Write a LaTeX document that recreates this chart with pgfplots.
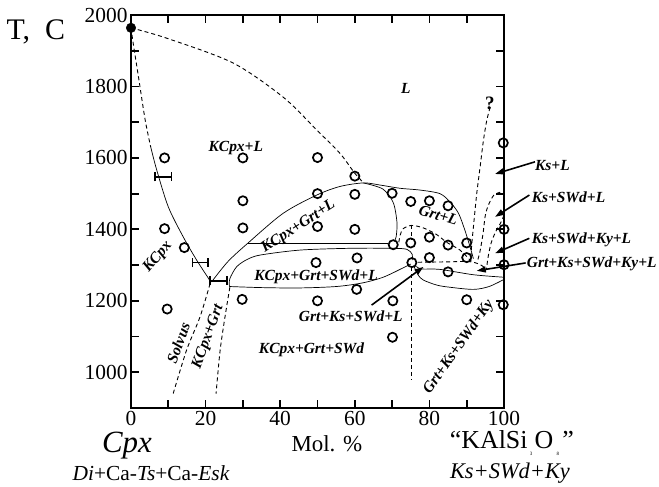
\documentclass[border=0pt]{standalone}
\usepackage{fontspec}
\setmainfont{Liberation Serif}
\usepackage{pgfplots}
\pgfplotsset{compat=1.18}
\usetikzlibrary{arrows.meta}
\begin{document}
\begin{tikzpicture}
\tikzset{
  thinline/.style={black, line width=0.7bp},
  dashline/.style={black, line width=0.9bp, dash pattern=on 4bp off 3bp},
  lab/.style={font=\fontsize{15.5}{17}\selectfont\bfseries\itshape, inner sep=0pt},
  arr/.style={black, line width=1.6bp, -{Triangle[length=9bp,width=6bp]}},
}
\begin{axis}[
  scale only axis, width=373bp, height=393bp,
  xmin=0, xmax=100, ymin=900, ymax=2000,
  xtick={0,20,...,100}, minor xtick={10,30,...,90},
  ytick={1000,1200,...,2000}, minor ytick={1100,1300,...,1900},
  tick align=inside, major tick length=8bp, minor tick length=8bp,
  every tick/.style={black, line width=1.8bp},
  axis line style={line width=2bp},
  ticklabel style={font=\fontsize{21.5}{23}\selectfont},
  /pgf/number format/assume math mode=true,
  /pgf/number format/1000 sep={},
  clip=false,
]
% liquidus of Cpx (dashed)
\addplot[dashline, smooth] coordinates {(0,1964) (9.6,1935) (27.3,1866) (40.8,1770) (49.8,1678) (56,1613) (60,1557) (62.3,1531)};
% left boundary: dashed then solid
\addplot[dashline, smooth] coordinates {(0,1964) (0.6,1920) (2,1827) (3.8,1706) (5.3,1630)};
\addplot[thinline, smooth] coordinates {(5.3,1630) (6.9,1566) (10,1463) (14,1379) (17.6,1314) (21.4,1253)};
% KCpx+Grt+L dome, outer
\addplot[thinline, smooth] coordinates {(21.6,1253) (26,1310) (31.4,1362) (40.8,1445) (49.8,1496) (56,1520) (62.3,1530) (66.8,1524) (72.1,1515) (77.5,1510) (82.8,1500) (85.5,1477) (87.8,1445) (89.5,1398) (90.9,1351) (91.8,1318)};
% inner branch
\addplot[thinline, smooth] coordinates {(62.3,1530) (67.5,1513) (70.3,1475) (71.3,1420) (71.1,1380) (70.6,1366)};
% horizontal line
\addplot[thinline] coordinates {(31.4,1362) (69,1362)};
% SWd loop
\addplot[thinline, smooth] coordinates {(26.4,1240) (26.5,1262) (28.3,1295) (31,1315) (34.6,1328) (45.3,1342) (58.7,1347) (70,1347) (74,1344) (75.4,1330) (75.4,1314)};
\addplot[thinline, smooth] coordinates {(26.4,1240) (35,1237) (45,1236) (55,1240) (62,1250) (67.6,1266) (72.9,1292) (75,1303)};
% Grt+L lower dashed
\addplot[dashline, smooth] coordinates {(71.8,1364) (72.2,1385) (73,1402) (75.2,1411) (78.4,1404) (82,1385) (84.6,1364) (88.2,1342) (90.9,1314)};
% vertical dashed x=75
\addplot[dashline] coordinates {(75.2,1411) (75.2,1370)};
\addplot[dashline] coordinates {(75.2,1295) (75.2,978)};
% horizontal dashed
\addplot[dashline, smooth] coordinates {(77,1308) (85,1309) (90.5,1310) (93.5,1302) (95.3,1288)};
% "?" dashed
\addplot[dashline, smooth] coordinates {(96.3,1742) (95.4,1706) (94.5,1650) (93.6,1575) (92.7,1501) (91.8,1407) (91.3,1351) (91.1,1310)};
% Ks+SWd+L dashed
\addplot[dashline, smooth] coordinates {(99,1504) (97.3,1496) (95.9,1470) (95,1440) (94.4,1390) (93.6,1340) (92.8,1308)};
% Ky dashed
\addplot[dashline, smooth] coordinates {(100,1440) (99.2,1420) (97.7,1392) (96.5,1360) (95.7,1320) (95.3,1288)};
% Grt+Ks+SWd+Ky+L lenses
\addplot[thinline, smooth] coordinates {(76.5,1296) (78,1289) (82.8,1288) (91.8,1273) (100,1266)};
\addplot[thinline, smooth] coordinates {(75.8,1298) (77,1272) (78.4,1258) (82,1244) (85.5,1238) (91.8,1232) (96,1240) (100,1260)};
% Solvus and KCpx+Grt dashed
\addplot[dashline, smooth] coordinates {(21.2,1248) (18.5,1155) (14.9,1062) (11.3,940)};
\addplot[dashline, smooth] coordinates {(26.5,1238) (25.2,1155) (23.9,1062) (22.8,940)};
% error bars
\addplot[draw=none, mark=none, error bars/.cd, x dir=both, x explicit, error mark=|,
  error bar style={draw=black, solid, line width=1.6bp}, error mark options={draw=black, line width=1.6bp, mark size=4.5bp}]
  coordinates {(8.7,1547) +- (2.2,0) (18.6,1307) +- (2.1,0) (23.5,1256) +- (2.3,0)};
% experimental points
\addplot[only marks, mark=o, mark size=4.6bp, mark options={black, line width=1.7bp}] coordinates {
(9,1600) (30,1600) (50,1601) (60,1549) (30,1480) (50,1500) (60,1498) (70,1501) (75,1478) (80,1480) (85,1466)
(9,1402) (30,1404) (50,1408) (60,1400) (14.3,1349) (70.3,1357) (75,1362) (80,1378) (85,1356) (90,1362)
(49.6,1307) (60.6,1320) (75.3,1307) (80,1321) (90,1321) (85,1281)
(99.8,1642) (100,1400) (100,1301) (99.8,1189)
(60.5,1232) (29.8,1204) (50,1200) (70.2,1200) (90,1203) (9.7,1177) (70.1,1098)};
\addplot[only marks, mark=*, mark size=4.8bp, mark options={black}] coordinates {(0,1964)};
% arrows
\draw[arr] (axis cs:108.3,1589) -- (axis cs:97.6,1555);
\draw[arr] (axis cs:106.8,1496) -- (axis cs:97.6,1435);
\draw[arr] (axis cs:106.8,1375) -- (axis cs:97.6,1333);
\draw[arr] (axis cs:105.8,1306) -- (axis cs:92.7,1284);
\draw[arr] (axis cs:64.5,1188) -- (axis cs:78.4,1295);
% labels inside
\node[lab] at (axis cs:73.7,1795) {L};
\node[lab] at (axis cs:28.1,1628) {KCpx+L};
\node[lab, rotate=33] at (axis cs:44.9,1407) {KCpx+Grt+L};
\node[lab, rotate=-17] at (axis cs:82.4,1440) {Grt+L};
\node[lab] at (axis cs:49.6,1268) {KCpx+Grt+SWd+L};
\node[lab, rotate=50] at (axis cs:7.2,1323) {KCpx};
\node[lab, rotate=70] at (axis cs:12.7,1082) {Solvus};
\node[lab, rotate=70] at (axis cs:20.7,1099) {KCpx+Grt};
\node[lab] at (axis cs:48.4,1062) {KCpx+Grt+SWd};
\node[lab] at (axis cs:58.9,1157) {Grt+Ks+SWd+L};
\node[lab, rotate=55] at (axis cs:87.9,1071) {Grt+Ks+SWd+Ky};
\node[lab, font=\fontsize{19}{20}\selectfont\bfseries] at (axis cs:96.2,1753) {?};
\node[lab, anchor=west] at (axis cs:108.3,1580) {Ks+L};
\node[lab, anchor=west] at (axis cs:107.4,1491) {Ks+SWd+L};
\node[lab, anchor=west] at (axis cs:107.4,1372) {Ks+SWd+Ky+L};
\node[lab, anchor=west] at (axis cs:106.1,1303) {Grt+Ks+SWd+Ky+L};
% outer labels
\node[font=\fontsize{30}{32}\selectfont, inner sep=0pt] at (axis cs:-25.5,1952) {T,\ \ C};
\node[font=\fontsize{31}{32}\selectfont\itshape, inner sep=0pt] at (axis cs:-1.1,796) {Cpx};
\node[font=\fontsize{21.5}{23}\selectfont, inner sep=0pt] at (axis cs:5.4,717) {\textit{Di}+Ca-\textit{Ts}+Ca-\textit{Esk}};
\node[font=\fontsize{23}{24}\selectfont, inner sep=0pt] at (axis cs:52.5,801) {Mol. \%};
\node[font=\fontsize{26}{28}\selectfont, inner sep=0pt] at (axis cs:102.1,801) {“KAlSi\makebox[7bp]{\raisebox{-7bp}{\fontsize{5}{5}\selectfont 3}}O\makebox[9bp]{\raisebox{-7bp}{\fontsize{5}{5}\selectfont 8}}”};
\node[font=\fontsize{22.5}{24}\selectfont\itshape, inner sep=0pt] at (axis cs:101.6,717) {Ks+SWd+Ky};
\end{axis}
\pgfresetboundingbox
\path[use as bounding box] ([xshift=-131bp,yshift=-79bp]current axis.south west) rectangle ([xshift=528bp,yshift=408bp]current axis.south west);
\end{tikzpicture}
\end{document}
